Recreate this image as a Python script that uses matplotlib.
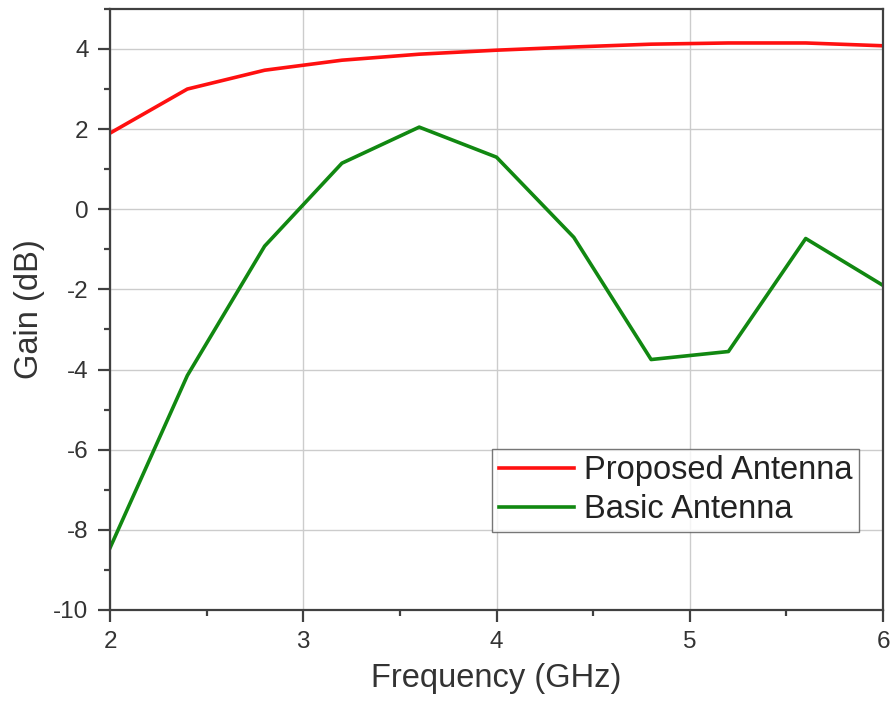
import numpy as np
import matplotlib.pyplot as plt
from matplotlib.ticker import MultipleLocator

# frequency sweep points (GHz) and gains (dB)
freq = [2.0, 2.4, 2.8, 3.2, 3.6, 4.0, 4.4, 4.8, 5.2, 5.6, 6.0]
gain_proposed = [1.9, 3.0, 3.47, 3.72, 3.87, 3.97, 4.05, 4.12, 4.15, 4.15, 4.08]
gain_basic = [-8.45, -4.15, -0.92, 1.15, 2.05, 1.3, -0.7, -3.75, -3.55, -0.73, -1.9]

plt.rcParams['font.family'] = ['Liberation Sans', 'DejaVu Sans']
plt.rcParams['axes.unicode_minus'] = False

fig = plt.figure(figsize=(8.96, 7.13), dpi=100)
ax = fig.add_axes([0.1228, 0.1445, 0.8627, 0.843])

ax.plot(freq, gain_proposed, color='#ff1010', lw=2.6, label='Proposed Antenna')
ax.plot(freq, gain_basic, color='#118811', lw=2.6, label='Basic Antenna')

ax.set_xlim(2, 6)
ax.set_ylim(-10, 5)
ax.xaxis.set_major_locator(MultipleLocator(1))
ax.xaxis.set_minor_locator(MultipleLocator(0.5))
ax.yaxis.set_major_locator(MultipleLocator(2))
ax.yaxis.set_minor_locator(MultipleLocator(1))
ax.grid(True, which='major', color='#cccccc', lw=1.0)
ax.set_axisbelow(True)

for sp in ax.spines.values():
    sp.set_color('#404040')
    sp.set_linewidth(1.6)

ax.tick_params(which='major', direction='out', length=8.5, width=1.6,
               color='#404040', labelsize=17.5, labelcolor='#333333', pad=7,
               top=False, right=False)
ax.tick_params(which='minor', direction='out', length=4.5, width=1.6,
               color='#404040', top=False, right=False)

ax.set_xlabel('Frequency (GHz)', fontsize=23.5, color='#333333', labelpad=7)
ax.set_ylabel('Gain (dB)', fontsize=23.5, color='#333333', labelpad=6)

leg = ax.legend(loc='lower right', bbox_to_anchor=(0.9685, 0.13), fontsize=23.5,
                frameon=True, fancybox=False, edgecolor='#555555',
                handlelength=2.3, handletextpad=0.3, borderpad=0.2,
                labelspacing=0.25, borderaxespad=0)
leg.get_frame().set_linewidth(1.0)
for t in leg.get_texts():
    t.set_color('#222222')

fig.savefig('out.png', dpi=100)
